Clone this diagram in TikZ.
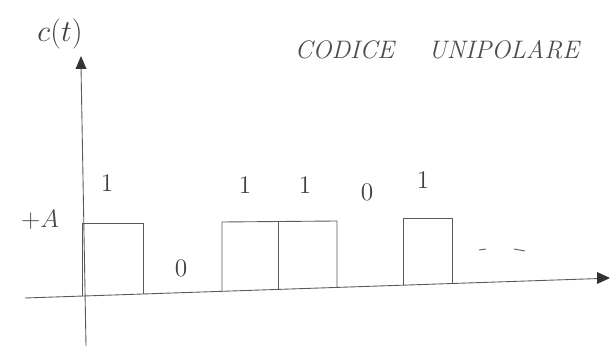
\documentclass[tikz,border=0pt]{standalone}
\usepackage{amssymb}
\usepackage{amsmath}
\usepackage{tikz}
\begin{document}
\begin{tikzpicture}[scale=0.2]
				\tikzstyle{every node}+=[inner sep=0pt]
				\tikzstyle{sketch}=[black!65, line width=0.5pt]
				\tikzstyle{bit}=[black!75, font=\Large]
				\useasboundingbox (0,0) rectangle (61.6,-34.6);
				% axes
				\coordinate (ybot) at (8.6,-34.6);
				\coordinate (ytop) at (8.1,-6.6);
				\coordinate (xleft) at (2.5,-29.8);
				\coordinate (xright) at (60.0,-27.85);
				\draw [sketch] (ybot) -- (ytop);
				\fill [black!80] (8.1,-5.6) -- (7.55,-6.9) -- (8.65,-6.9);
				\draw [sketch] (xleft) -- (xright);
				\fill [black!80] (61.0,-27.8) -- (59.7,-27.2) -- (59.7,-28.4);
				\draw (6.0,-3.4) node [black!75, font=\LARGE] (ct) {$c(t)$};
				\draw (43.7,-5.0) node [black!70, font=\Large\itshape] (title) {CODICE \quad UNIPOLARE};
				\draw (4.0,-22.0) node [black!70, font=\Large] (lvl) {$+A$};
				% pulses
				\draw [sketch] (8.2,-29.6) -- (8.2,-22.3) -- (14.3,-22.3) -- (14.3,-29.4);
				\draw [sketch] (22.2,-29.1) -- (22.2,-22.2) -- (33.7,-22.1) -- (33.7,-28.7);
				\draw [sketch] (27.8,-22.2) -- (27.8,-28.9);
				\draw [sketch] (40.3,-28.5) -- (40.3,-21.8) -- (45.2,-21.8) -- (45.2,-28.3);
				\draw [sketch] (47.9,-25.0) -- (48.6,-24.9);
				\draw [sketch] (51.4,-24.9) -- (52.5,-25.1);
				% bits
				\draw (10.7,-18.3) node [bit] (b1) {1};
				\draw (18.1,-26.8) node [bit] (b2) {0};
				\draw (24.5,-18.5) node [bit] (b3) {1};
				\draw (30.5,-18.5) node [bit] (b4) {1};
				\draw (36.7,-19.2) node [bit] (b5) {0};
				\draw (42.3,-18.0) node [bit] (b6) {1};
			\end{tikzpicture}
\end{document}
